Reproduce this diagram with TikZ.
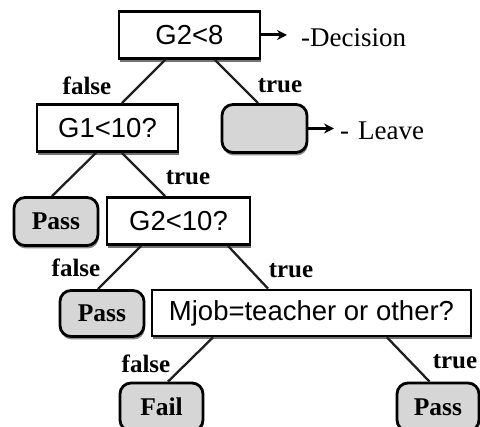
\documentclass[tikz,border=0pt]{standalone}
\usepackage{fontspec}
\setmainfont{Liberation Serif}
\newfontfamily\arial{Liberation Sans}
\usetikzlibrary{shadows,arrows.meta,calc}
\begin{document}
\begin{tikzpicture}[x=1pt,y=-1pt,
  test/.style={draw=black,line width=2.8pt,fill=white,inner sep=0pt,
    font=\arial\fontsize{27.5}{29}\selectfont,
    drop shadow={shadow xshift=0.8pt,shadow yshift=-3.5pt,fill=black!55,opacity=1}},
  leaf/.style={draw=black,line width=2.8pt,fill=black!16,rounded corners=11pt,inner sep=0pt,
    font=\bfseries\fontsize{25.5}{27}\selectfont,
    drop shadow={shadow xshift=0.8pt,shadow yshift=-3pt,fill=black!45,opacity=1}},
  edge/.style={line width=2.3pt,draw=black!88},
  lbl/.style={font=\bfseries\fontsize{25}{27}\selectfont,inner sep=0pt},
  note/.style={font=\fontsize{27}{29}\selectfont,inner sep=0pt,anchor=west},
  pointer/.style={line width=3pt,-{Stealth[length=10pt,width=10pt]}}]
\useasboundingbox (0,0) rectangle (480,427);
\begin{scope}
\clip (0,0) rectangle (480,427);
% decision nodes and leaves
\node[test,minimum width=141pt,minimum height=47pt] (g28) at (189.5,35) {G2<8};
\node[test,minimum width=141pt,minimum height=47pt] (g110) at (107.5,128) {G1<10?};
\node[leaf,minimum width=85pt,minimum height=48pt] (leave) at (264.5,128.5) {};
\node[leaf,minimum width=84pt,minimum height=48pt] (pass1) at (56,221.5) {Pass};
\node[test,minimum width=143pt,minimum height=47pt] (g210) at (178.5,221) {G2<10?};
\node[leaf,minimum width=84pt,minimum height=46pt] (pass2) at (102,313.5) {Pass};
\node[test,minimum width=319pt,minimum height=46pt] (mjob) at (311.5,313) {Mjob=teacher or other?};
\node[leaf,minimum width=83pt,minimum height=48pt] (fail) at (161.5,407) {Fail};
\node[leaf,minimum width=82pt,minimum height=48pt] (pass3) at (438,407) {Pass};

% branches
\draw[edge] ([xshift=-24.5pt]g28.south) -- ([xshift=14.5pt]g110.north);
\draw[edge] ([xshift=25.5pt]g28.south) -- ([xshift=-6.5pt]leave.north);
\draw[edge] ([xshift=-11.5pt]g110.south) -- ([xshift=-4pt]pass1.north);
\draw[edge] ([xshift=14.5pt]g110.south) -- ([xshift=-13.5pt]g210.north);
\draw[edge] ([xshift=-37.5pt]g210.south) -- ([xshift=-4pt]pass2.north);
\draw[edge] ([xshift=49.5pt]g210.south) -- ([xshift=-43.5pt]mjob.north);
\draw[edge] ([xshift=-98.5pt]mjob.south) -- ([xshift=6.5pt]fail.north);
\draw[edge] ([xshift=75.5pt]mjob.south) -- ([xshift=-8.5pt]pass3.north);

% branch labels
\node[lbl] (f1) at (87,86) {false};
\node[lbl] (t1) at (280,86) {true};
\node[lbl] (t2) at (188,178) {true};
\node[lbl] (f2) at (76,268) {false};
\node[lbl] (t3) at (291,271) {true};
\node[lbl] (f3) at (146,364) {false};
\node[lbl] (t4) at (455,362) {true};

% legend pointers
\coordinate (dtip) at (287,35);
\coordinate (ltip) at (334,128.5);
\draw[pointer] (g28.east) -- (dtip);
\draw[pointer] (leave.east) -- (ltip);
\node[note] (dec) at (301,38) {-Decision};
\node[note] (lea) at (340,131) {-\,\,Leave};
\end{scope}
\end{tikzpicture}
\end{document}
